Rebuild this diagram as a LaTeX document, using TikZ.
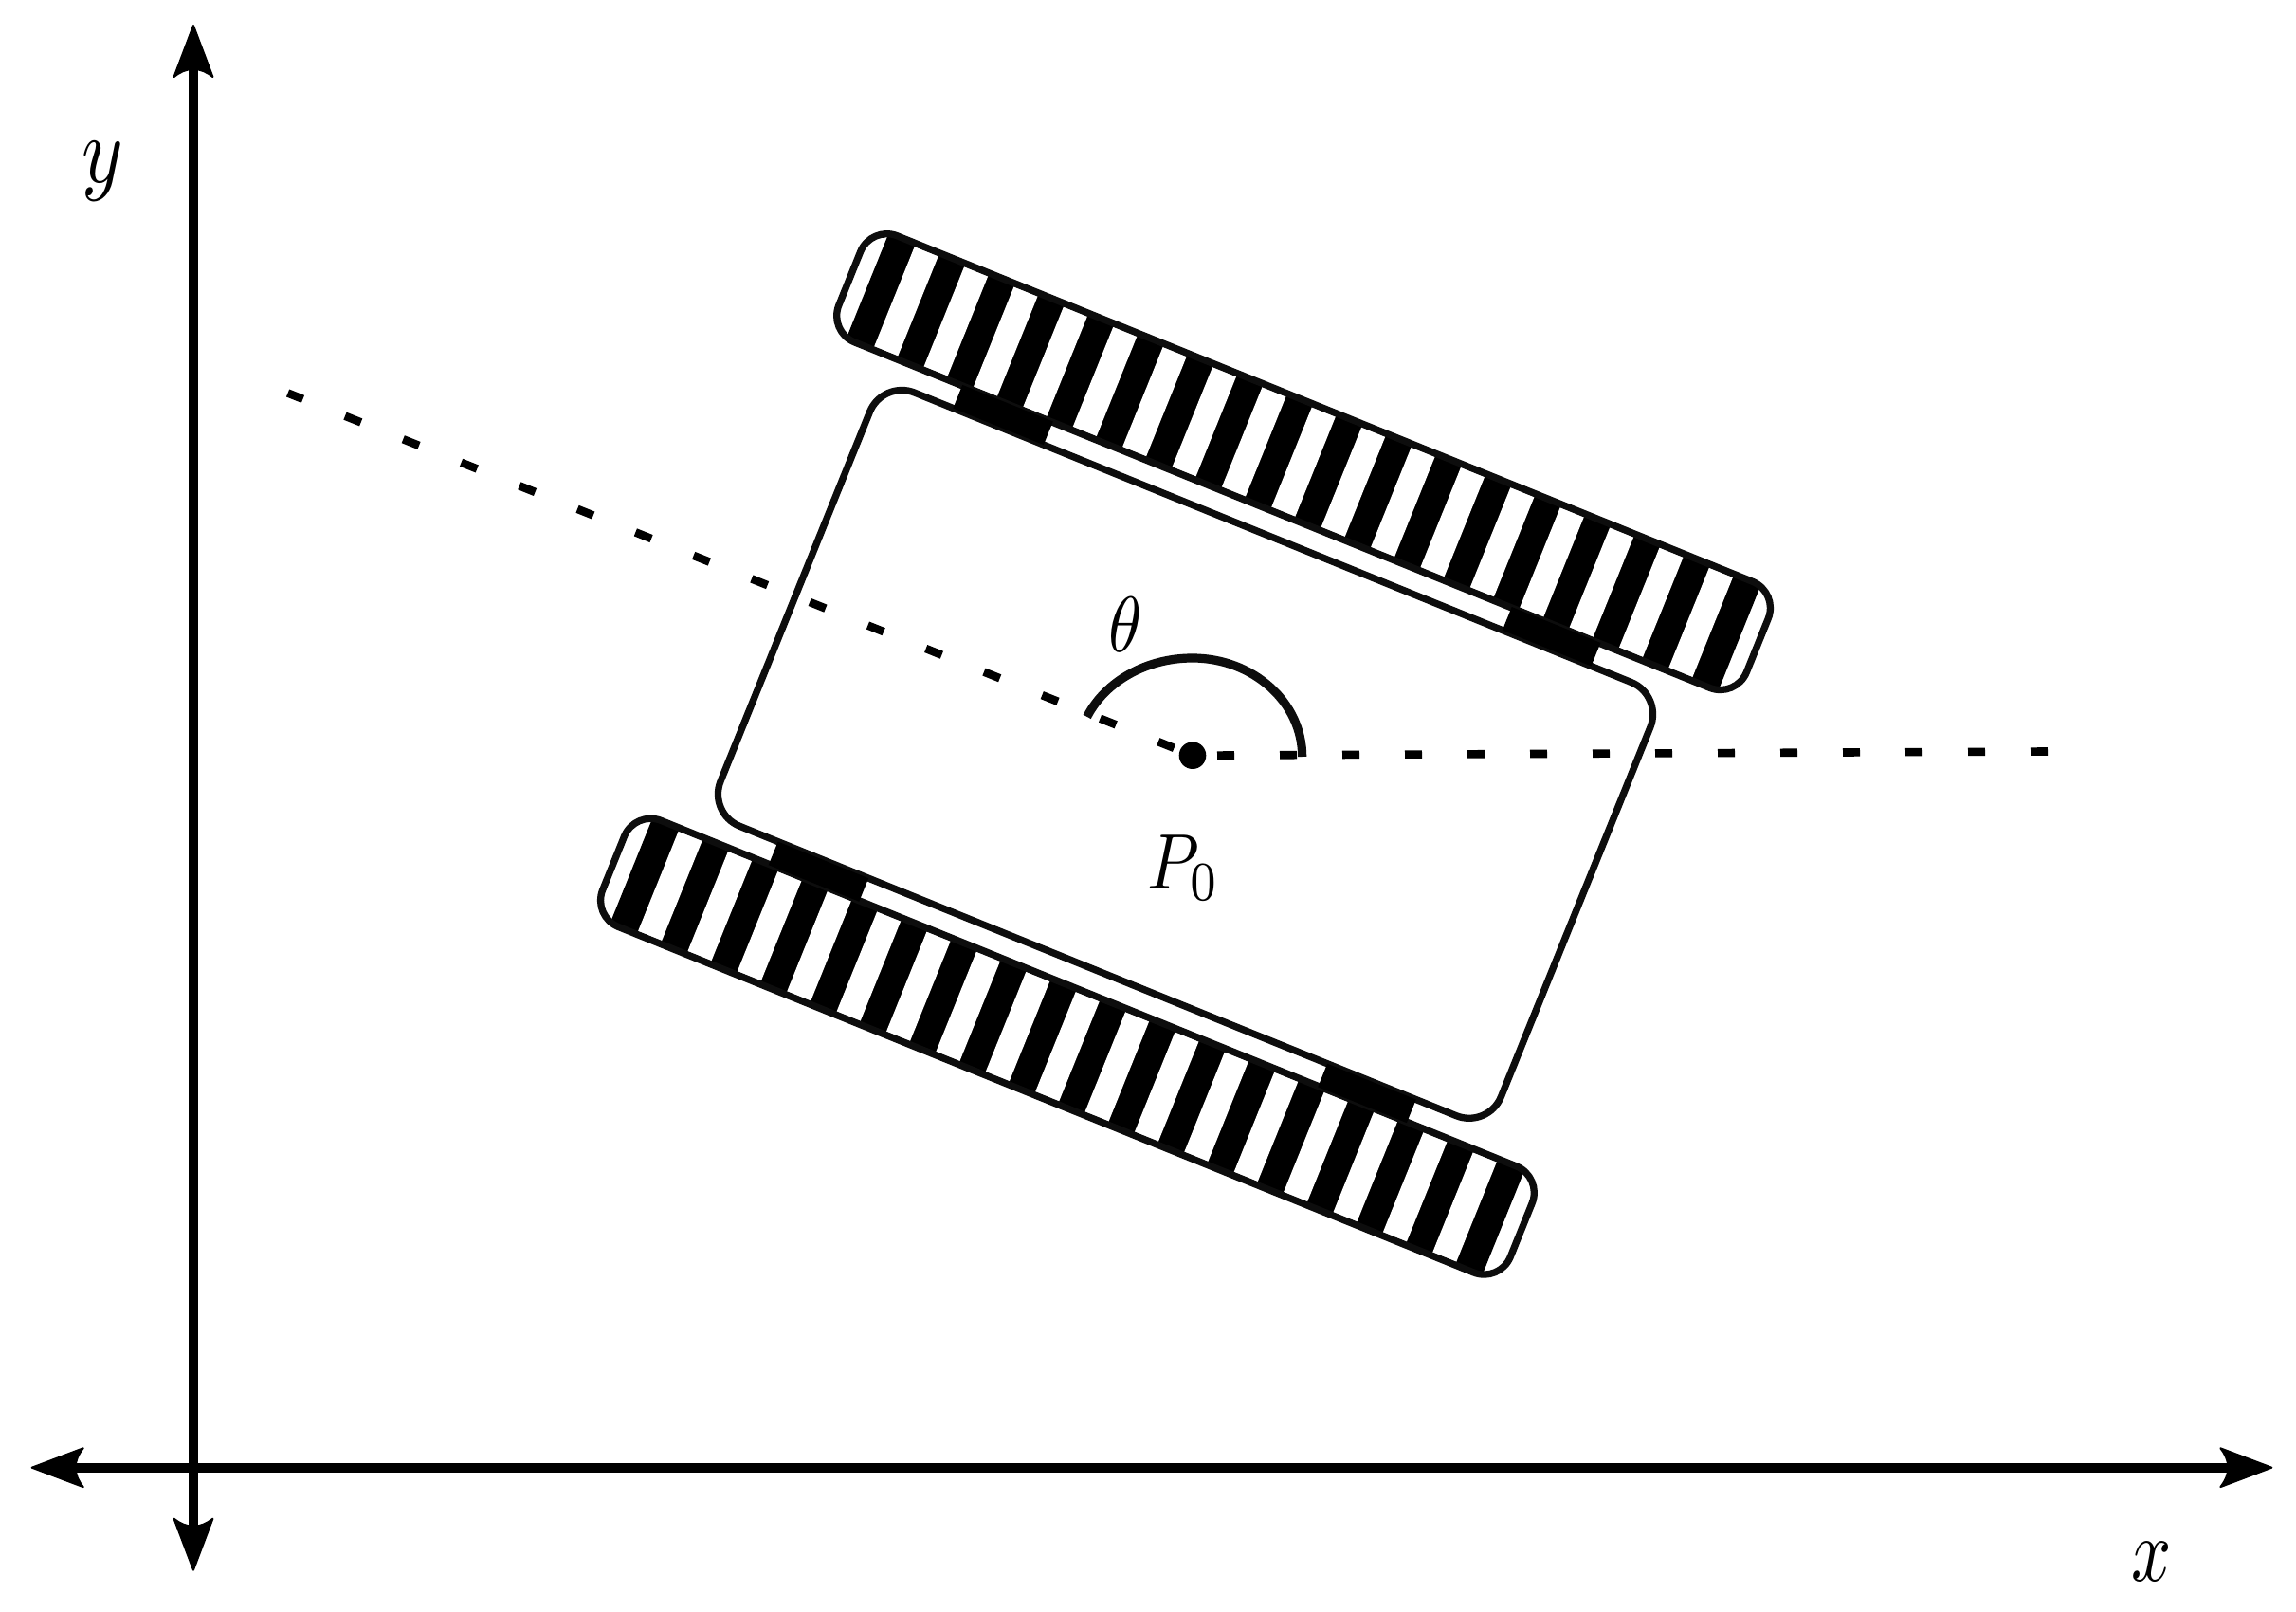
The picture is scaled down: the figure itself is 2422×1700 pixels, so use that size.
\documentclass[tikz,border=0pt]{standalone}
\usetikzlibrary{arrows.meta}
\pgfdeclarearrow{
  name=AxisTip,
  setup code={
    \pgfarrowssettipend{0pt}
    \pgfarrowssetbackend{-28.5pt}
    \pgfarrowssetlineend{-22pt}
    \pgfarrowssetvisualbackend{-24pt}
  },
  drawing code={
    \pgfsetlinewidth{1pt}
    \pgfsetroundjoin
    \pgfpathmoveto{\pgfqpoint{-1pt}{0pt}}
    \pgfpathlineto{\pgfqpoint{-28pt}{10.2pt}}
    \pgfpathcurveto{\pgfqpoint{-25.5pt}{7pt}}{\pgfqpoint{-24pt}{4pt}}{\pgfqpoint{-24pt}{0pt}}
    \pgfpathcurveto{\pgfqpoint{-24pt}{-4pt}}{\pgfqpoint{-25.5pt}{-7pt}}{\pgfqpoint{-28pt}{-10.2pt}}
    \pgfpathclose
    \pgfusepathqfillstroke
  }
}
\definecolor{ink}{gray}{0.05}
\tikzset{
  axisline/.style={line width=5pt,black,AxisTip-AxisTip},
  outline/.style={line width=3.65pt,draw=ink},
  dotline/.style={line width=4.3pt,black,dash pattern=on 9pt off 24pt},
  anglearc/.style={line width=4.6pt,draw=ink},
  lbl/.style={inner sep=0pt}
}
\newcommand{\treadshape}{%
  \begin{scope}
    \clip[rounded corners=15pt] (-516.4,-60.4) rectangle (516.4,60.4);
    \fill[black] (-496,-60.4) rectangle (496,60.4);
    \foreach \i in {0,...,16}
      \fill[white] ({-452+56.5*\i-13.5},-57) rectangle +(27,114);
  \end{scope}
  \draw[outline,rounded corners=15pt] (-516.4,-60.4) rectangle (516.4,60.4);
}
\begin{document}
\begin{tikzpicture}[x=0.5pt,y=-0.5pt]
\useasboundingbox (0,0) rectangle (2422,1700);
% axes
\coordinate (xl) at (31.7,1547.7);
\coordinate (xr) at (2398.3,1547.7);
\coordinate (yt) at (204,25);
\coordinate (yb) at (204,1657.7);
\draw[axisline] (xl) -- (xr);
\draw[axisline] (yb) -- (yt);
% vehicle
\begin{scope}[shift={(1250.5,795.4)},rotate=-22]
  \begin{scope}[shift={(0,-332.5)}]\treadshape\end{scope}
  \begin{scope}[shift={(0,332.5)}]\treadshape\end{scope}
  \draw[outline,rounded corners=18.2pt] (-444,-246.5) rectangle (444,246.5);
  \foreach \s in {-1,1}{
    \fill[black] (-364,{\s*246.5}) rectangle (-261,{\s*273});
    \fill[black] (261,{\s*246.5}) rectangle (362,{\s*273});
  }
\end{scope}
% centre point and reference lines
\node[circle,fill=black,minimum size=14.3pt,inner sep=0pt] (P) at (1258,796.7) {};
\coordinate (rightend) at (2160,792.5);
\coordinate (leftend) at (303.6,414.5);
\draw[dotline,dash phase=20pt] (P.center) -- (rightend);
\draw[dotline,dash phase=22.5pt] (P.center) -- (leftend);
% angle arc
\coordinate (arcstart) at (1373.7,798);
\coordinate (arctop) at (1257.7,694);
\coordinate (arcend) at (1146.7,755.9);
\draw[anglearc] (arcstart) .. controls (1373.7,740.6) and (1321.8,694) .. (arctop)
  .. controls (1209.6,694) and (1166,718.3) .. (arcend);
% labels
\node[lbl,xscale=3.55,yscale=4.15] (theta) at (1187.3,658.7) {$\theta$};
\node[lbl,xscale=3.5,yscale=4.15] (Pzero) at (1248.7,915) {$P_0$};
\node[lbl,xscale=3.7,yscale=4.75] (xlabel) at (2269.7,1647) {$x$};
\node[lbl,xscale=4.15,yscale=5] (ylabel) at (108.7,180.3) {$y$};
\end{tikzpicture}
\end{document}
